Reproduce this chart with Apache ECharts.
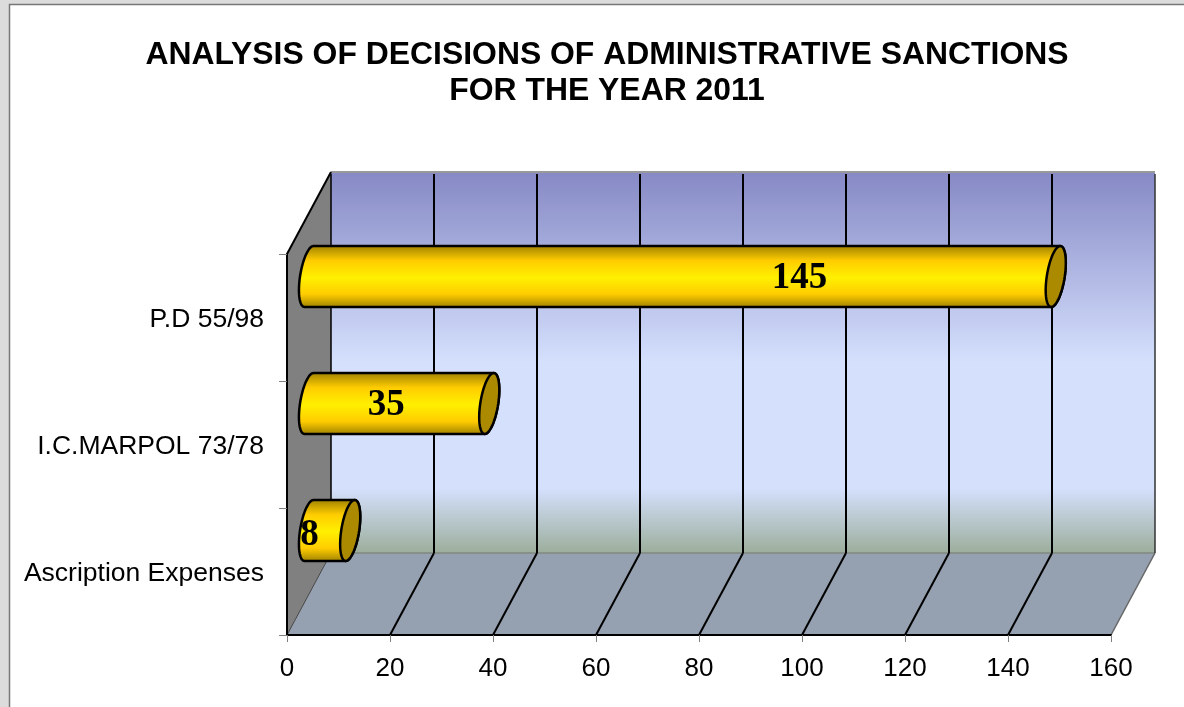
<!DOCTYPE html>
<html>
<head>
<meta charset="utf-8">
<style>
  html, body { margin: 0; padding: 0; background: #dcdcdc; }
  #chart { width: 1184px; height: 707px; }
</style>
<script src="https://cdn.jsdelivr.net/npm/echarts@6/dist/echarts.min.js"></script>
</head>
<body>
<div id="chart"></div>
<script>
  // data
  var categories = ['Ascription Expenses', 'I.C.MARPOL 73/78', 'P.D 55/98'];
  var values = [8, 35, 145];
  var xTicks = [0, 20, 40, 60, 80, 100, 120, 140, 160];
  var titleLines = ['ANALYSIS OF DECISIONS OF ADMINISTRATIVE SANCTIONS', 'FOR THE YEAR 2011'];

  // fake 3d: how far the back wall sits from the front plane, in pixels
  var DEPTH_X = 44;
  var DEPTH_Y = -82;
  var CYL_HALF = 30.5;
  var CAP_RX = 9;
  var CAP_SKEW = 4.5;
  // labels were dragged by hand in the original, offset from the bar centre
  var labelShiftX = [-20, -13, 117];
  var labelShiftY = [5, 2, 2];

  // point on the tilted end ellipse of a cylinder
  function capPoint(cx, cy, deg) {
    var t = deg * Math.PI / 180;
    return [cx + CAP_RX * Math.cos(t) + CAP_SKEW * Math.sin(t), cy - CYL_HALF * Math.sin(t)];
  }

  function capArc(cx, cy, from, to) {
    var pts = [];
    for (var d = from; d <= to; d += 6) pts.push(capPoint(cx, cy, d));
    return pts;
  }

  function renderWalls(params) {
    var r = params.coordSys;
    var l = r.x, t = r.y, b = r.y + r.height, e = r.x + r.width;
    var backGrad = new echarts.graphic.LinearGradient(0, 0, 0, 1, [
      { offset: 0, color: '#8689c5' },
      { offset: 0.5, color: '#d5e0fd' },
      { offset: 0.83, color: '#d5e0fd' },
      { offset: 1, color: '#9cae9c' }
    ]);
    return {
      type: 'group',
      children: [
        { type: 'rect', shape: { x: l + DEPTH_X, y: t + DEPTH_Y, width: r.width, height: r.height }, style: { fill: backGrad } },
        { type: 'polygon', shape: { points: [[l, b], [l + DEPTH_X, b + DEPTH_Y], [e + DEPTH_X, b + DEPTH_Y], [e, b]] }, style: { fill: '#95a0b0' } },
        { type: 'polygon', shape: { points: [[l, t], [l + DEPTH_X, t + DEPTH_Y], [l + DEPTH_X, b + DEPTH_Y], [l, b]] }, style: { fill: '#808080' } },
        { type: 'line', shape: { x1: l + DEPTH_X, y1: t + DEPTH_Y, x2: e + DEPTH_X, y2: t + DEPTH_Y }, style: { stroke: '#999', lineWidth: 2 } },
        { type: 'line', shape: { x1: l + DEPTH_X, y1: b + DEPTH_Y, x2: e + DEPTH_X, y2: b + DEPTH_Y }, style: { stroke: '#808880', lineWidth: 1.5 } },
        { type: 'line', shape: { x1: l, y1: t, x2: l + DEPTH_X, y2: t + DEPTH_Y }, style: { stroke: '#000', lineWidth: 2 } },
        { type: 'line', shape: { x1: l, y1: b, x2: l + DEPTH_X, y2: b + DEPTH_Y }, style: { stroke: '#444', lineWidth: 1 } },
        { type: 'line', shape: { x1: e, y1: b, x2: e + DEPTH_X, y2: b + DEPTH_Y }, style: { stroke: '#666', lineWidth: 1.5 } }
      ]
    };
  }

  function renderGridLine(params, api) {
    var r = params.coordSys;
    var x = api.coord([api.value(0), 0])[0];
    var t = r.y, b = r.y + r.height;
    var last = params.dataIndex === xTicks.length - 1;
    var kids = [
      { type: 'line', shape: { x1: x + DEPTH_X, y1: t + DEPTH_Y + 2, x2: x + DEPTH_X, y2: b + DEPTH_Y }, style: { stroke: last ? '#333' : '#000', lineWidth: last || params.dataIndex === 0 ? 1.5 : 2 } }
    ];
    if (params.dataIndex > 0 && !last) {
      kids.push({ type: 'line', shape: { x1: x + DEPTH_X, y1: b + DEPTH_Y, x2: x, y2: b }, style: { stroke: '#000', lineWidth: 2 } });
    }
    return { type: 'group', children: kids };
  }

  function renderCylinder(params, api) {
    var i = params.dataIndex;
    var start = api.coord([0, i]);
    var end = api.coord([api.value(0), i]);
    var cy = start[1] + DEPTH_Y / 2;
    var x0 = start[0] + DEPTH_X / 2;
    var x1 = end[0] + DEPTH_X / 2;
    var bodyGrad = new echarts.graphic.LinearGradient(0, 0, 0, 1, [
      { offset: 0, color: '#9a7e00' },
      { offset: 0.25, color: '#ffcc00' },
      { offset: 0.52, color: '#fff000' },
      { offset: 0.78, color: '#ffcc00' },
      { offset: 1, color: '#9a7e00' }
    ]);
    var body = capArc(x0, cy, 90, 270).concat(capArc(x1, cy, 270, 450));
    return {
      type: 'group',
      children: [
        { type: 'polygon', shape: { points: body }, style: { fill: bodyGrad, stroke: '#000', lineWidth: 2.5 } },
        { type: 'polygon', shape: { points: capArc(x1, cy, 0, 360) }, style: { fill: '#ab8a00', stroke: '#000', lineWidth: 2.5 } },
        {
          type: 'text',
          x: (x0 + x1) / 2 + labelShiftX[i],
          y: cy + labelShiftY[i],
          style: {
            text: String(api.value(0)),
            font: 'bold 37px "Liberation Serif"',
            fill: '#000',
            align: 'center',
            verticalAlign: 'middle'
          }
        }
      ]
    };
  }

  var chart = echarts.init(document.getElementById('chart'), null, { renderer: 'canvas' });

  var option = {
    animation: false,
    backgroundColor: '#dcdcdc',
    graphic: [{
      type: 'rect',
      z: -1,
      shape: { x: 9.5, y: 4.5, width: 1180, height: 710 },
      style: { fill: '#fff', stroke: '#777', lineWidth: 1.5 }
    }],
    title: {
      text: titleLines.join('\n'),
      left: 602,
      top: 32,
      textAlign: 'center',
      textStyle: {
        fontFamily: 'Liberation Sans',
        fontSize: 31.9,
        fontWeight: 'bold',
        color: '#000',
        lineHeight: 36
      }
    },
    grid: { left: 287, right: 73, top: 254, bottom: 72 },
    xAxis: {
      type: 'value',
      min: 0,
      max: 160,
      interval: 20,
      z: 5,
      axisLine: { show: true, lineStyle: { color: '#000', width: 2 } },
      axisTick: { show: true, length: 7, lineStyle: { color: '#808080', width: 1 } },
      axisLabel: { margin: 21, fontFamily: 'Liberation Sans', fontSize: 26, color: '#000' },
      splitLine: { show: false }
    },
    yAxis: {
      type: 'category',
      data: categories,
      z: 5,
      axisLine: { show: true, lineStyle: { color: '#000', width: 2 } },
      axisTick: { show: true, length: 8, lineStyle: { color: '#808080', width: 1 } },
      // top aligned with a short line box pushes the text a little below the band centre
      axisLabel: { margin: 23, verticalAlign: 'top', lineHeight: 5, fontFamily: 'Liberation Sans', fontSize: 26.5, color: '#000' }
    },
    series: [
      { type: 'custom', name: 'walls', silent: true, data: [0], renderItem: renderWalls, z: 1 },
      { type: 'custom', name: 'grid', silent: true, data: xTicks, encode: { x: 0 }, renderItem: renderGridLine, z: 2 },
      { type: 'custom', name: 'bars', silent: true, data: values, encode: { x: 0 }, renderItem: renderCylinder, z: 3 }
    ]
  };

  chart.setOption(option);
</script>
</body>
</html>
